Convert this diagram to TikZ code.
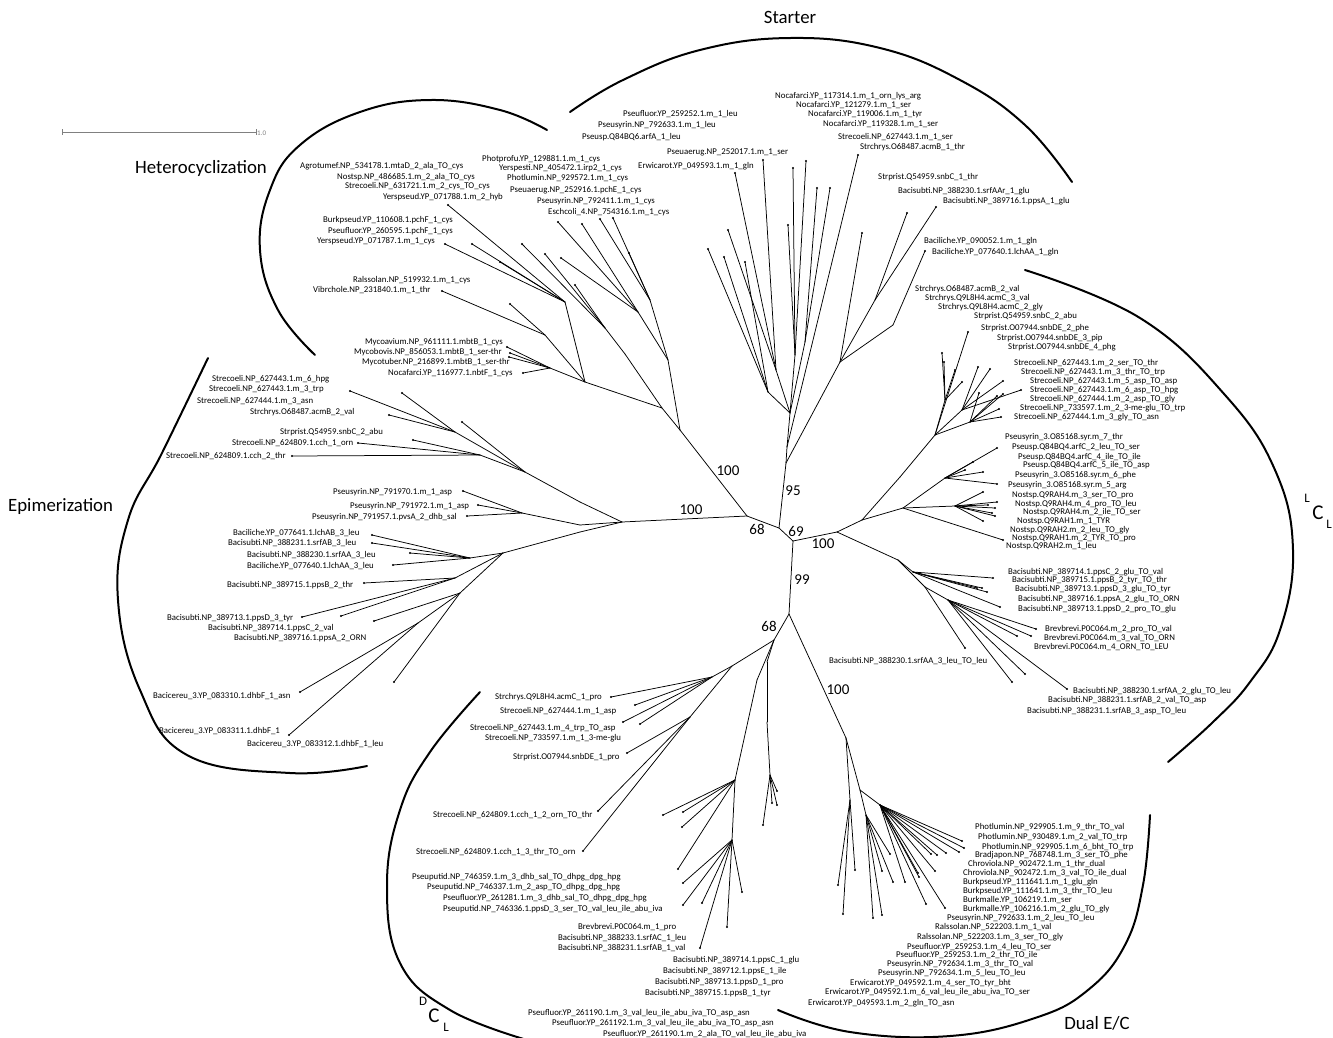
\documentclass[tikz,border=0pt]{standalone}
\usepackage{fontspec}
\setmainfont{Carlito}
\begin{document}
\begin{tikzpicture}[x=1pt,y=-1pt,
  br/.style={line width=0.75pt, line cap=round},
  arcl/.style={line width=2pt, line cap=round},
  lb/.style={anchor=west, inner sep=0pt, font=\fontsize{8.8}{9}\selectfont},
  bs/.style={inner sep=0pt, font=\fontsize{15}{16}\selectfont},
  grp/.style={inner sep=0pt, font=\fontsize{18.8}{20}\selectfont},
  sml/.style={inner sep=0pt, font=\fontsize{13}{14}\selectfont},
  tipdot/.style={fill=black}]
\useasboundingbox (0,0) rectangle (1333,1037);

% ---------- backbone ----------
\coordinate (A) at (747,516);
\foreach \n/\x/\y/\p in {B/779/528/A, C/793/541/B, S1/786/463/B, H1/680/430/A, E1/622/522/A, L1/837/532/C, D0/789/614/C}
  {\coordinate (\n) at (\x,\y); \draw[br] (\p) -- (\n);}

% ---------- internal nodes ----------
\foreach \n/\x/\y/\p in {S5/787/447/S1, S4/790/413/S5, Sa/776/370/S4, Sb/795/355/S4, Sc/805/342/S4, Sg/768/392/S4, S2/840/362/S1, Se/875/300/S2, Sf/893/325/S2,
  Hv/668/360/H1, Hw/650/300/Hv, Hx/638/312/Hv, H2/662/408/H1, H3/625/354/H2, H3a/605/328/H3, H4/585/382/H2, Hm/550/368/H4, H5/545/335/H4, H6/565/302/H4,
  Ea/580/502/E1, Es/525/472/Ea, En/455/432/Es, Eo/480/455/Es, Eq/580/525/E1, Ep/522/513/Eq, Er/580/532/E1, Eb/503/553/Er, Eb1/470/558/Eb, Eb2/455/578/Eb, Eb3/460/593/Eb, Eb4/418/623/Eb3,
  L2/862/520/L1, L3/900/477/L2, L4/935/435/L3, L4a/945/400/L4, L4b/962/410/L4, L4c/970/422/L4, L5/903/508/L2, L5a/945/478/L5, L5b/955/506/L5, L6/898/560/L1, L7/913/572/L6, L8/925/587/L6, L9/948/600/L8,
  D1/774/640/D0, D2/732/666/D1, D3/712/677/D2, D4/690/717/D2, D5/767/662/D1, D7/767/722/D5, D8/770/775/D7, D9/757/680/D1, D10/735/780/D9, D11/732/840/D10,
  U1/846/738/D0, U2/860/790/U1, U3/880/805/U2, U4/866/815/U2, U5/850/800/U1}
  {\coordinate (\n) at (\x,\y); \draw[br] (\p) -- (\n);}

% ---------- tips ----------
\foreach \x/\y/\p [count=\i] in {763/160/Sa, 735/173/Sa, 728/230/Sa, 708/249/Sg, 724/257/Sg, 745/262/Sg, 793/168/Sb, 806/161/Sb, 788/225/Sb, 817/188/Sc, 830/188/Sc, 858/155/S5, 936/207/Se, 907/213/Se, 862/233/S2, 925/251/Sf,
  613/218/Hw, 600/219/Hw, 629/253/Hw, 582/224/Hx, 558/222/Hx, 561/258/Hx, 545/254/H3a, 522/244/H3a, 575/285/H3a, 448/205/H6, 445/244/H6, 472/244/H6, 500/262/H6, 442/291/H5, 510/304/H5, 507/347/Hm, 510/353/Hm, 509/357/Hm, 523/373/Hm,
  350/391/En, 402/393/En, 389/415/En, 462/422/Es, 413/440/Eo, 358/443/Eo, 292/456/Eo, 463/491/Ep, 478/505/Ep, 467/516/Ep, 372/535/Eb1, 372/543/Eb1, 410/553/Eb1, 393/565/Eb1, 364/583/Eb2, 302/617/Eb2, 341/616/Eb2, 374/621/Eb3, 394/682/Eb3, 300/692/Eb4, 289/735/Eb4,
  968/332/L4, 942/353/L4a, 944/362/L4a, 962/382/L4a, 955/370/L4a, 990/369/L4b, 978/367/L4b, 1003/381/L4b, 1021/390/L4b, 1003/394/L4c, 997/396/L4c, 979/393/L4c, 999/409/L4c, 1001/417/L4c,
  997/448/L5a, 973/462/L5a, 983/472/L5a, 997/484/L5a, 965/470/L5a, 983/492/L5b, 997/502/L5b, 995/508/L5b, 992/513/L5b, 995/516/L5b, 983/521/L5b, 988/505/L5b, 1003/540/L5,
  993/578/L7, 977/588/L7, 982/588/L7, 1000/607/L7, 987/592/L7, 965/648/L8, 1036/629/L9, 1017/636/L9, 1031/636/L9, 1025/674/L9, 1012/682/L9, 1067/689/L9,
  611/697/D3, 635/705/D3, 623/722/D3, 640/724/D3, 627/753/D4, 598/811/D4, 583/851/D4, 763/825/D8, 772/803/D8, 777/805/D8, 777/791/D8, 663/815/D10, 683/812/D10, 682/827/D10, 678/869/D10, 683/883/D11, 683/905/D11, 702/903/D11, 742/892/D11, 727/927/D11, 700/948/D11,
  962/841/U3, 964/848/U3, 959/852/U3, 946/853/U3, 937/855/U3, 931/854/U3, 935/871/U3, 919/877/U3, 918/873/U3, 905/882/U3, 926/904/U3, 945/908/U3, 893/882/U4, 890/854/U4, 882/871/U4, 873/918/U4, 882/915/U4, 855/870/U5, 838/885/U5, 843/914/U5}
  {\coordinate (t\i) at (\x,\y); \draw[br] (\p) -- (t\i); \fill[tipdot] (t\i) circle[radius=1.2pt];}

% ---------- bootstrap values ----------
\node[bs] (b1) at (728,471) {100};
\node[bs] (b2) at (793,491) {95};
\node[bs] (b3) at (691,510) {100};
\node[bs] (b4) at (757,529) {68};
\node[bs] (b5) at (796,531) {69};
\node[bs] (b6) at (823,544) {100};
\node[bs] (b7) at (802,580) {99};
\node[bs] (b8) at (769,626) {68};
\node[bs] (b9) at (838,690) {100};

% ---------- group arcs ----------
\draw[arcl] plot[smooth, tension=0.7] coordinates {(547,130) (500,110) (430,100) (360,112) (300,145) (270,190) (260,250) (278,310) (315,355)};
\draw[arcl] plot[smooth, tension=0.7] coordinates {(570,112) (623,80) (700,50) (790,38) (880,48) (960,80) (1025,125) (1072,182)};
\draw[arcl] plot[smooth, tension=0.7] coordinates {(208,358) (162,453) (128,520) (118,600) (140,690) (187,755) (290,773) (367,766)};
\draw[arcl] plot[smooth, tension=0.7] coordinates {(1025,270) (1140,318) (1225,395) (1275,470) (1293,550) (1280,630) (1250,682) (1213,722) (1168,762)};
\draw[arcl] plot[smooth, tension=0.7] coordinates {(480,692) (430,752) (400,810) (387,885) (400,963) (450,1010) (527,1040)};
\draw[arcl] plot[smooth, tension=0.7] coordinates {(778,1010) (850,1032) (950,1036) (1035,1018) (1088,990) (1125,945) (1143,885) (1150,815)};

% ---------- group labels ----------
\node[grp] (gS) at (790,17) {Starter};
\node[grp, anchor=west] (gH) at (135,168) {Heterocyclization};
\node[grp, anchor=west] (gE) at (8,507) {Epimerization};
\node[grp] (gDual) at (1097,1023) {Dual E/C};
\node[grp, font=\fontsize{21}{22}\selectfont] (gLC) at (1318,513) {C};
\node[sml] (gLsup) at (1307,498) {L};
\node[sml] (gLsub) at (1329,524) {L};
\node[grp, font=\fontsize{21}{22}\selectfont] (gDC) at (434,1016) {C};
\node[sml] (gDsup) at (423,1001) {D};
\node[sml] (gDsub) at (446,1027) {L};

% ---------- scale bar ----------
\coordinate (sb1) at (62,132);
\coordinate (sb2) at (256,132);
\draw[gray, line width=0.8pt] (sb1) -- (sb2);
\draw[gray, line width=0.8pt] (62,129) -- (62,135);
\draw[gray, line width=0.8pt] (256,129) -- (256,135);
\node[gray, anchor=west, inner sep=0pt, font=\fontsize{7}{8}\selectfont] (sbl) at (257,133) {1.0};

% ---------- leaf labels ----------
\foreach \x/\y/\t [count=\i] in {
 623/114/Pseufluor.YP\_259252.1.m\_1\_leu,
 598/125/Pseusyrin.NP\_792633.1.m\_1\_leu,
 582/137/Pseusp.Q84BQ6.arfA\_1\_leu,
 667/152/Pseuaerug.NP\_252017.1.m\_1\_ser,
 638/166/Erwicarot.YP\_049593.1.m\_1\_gln,
 775/96/Nocafarci.YP\_117314.1.m\_1\_orn\_lys\_arg,
 796/105/Nocafarci.YP\_121279.1.m\_1\_ser,
 808/114/Nocafarci.YP\_119006.1.m\_1\_tyr,
 823/124/Nocafarci.YP\_119328.1.m\_1\_ser,
 838/137/Strecoeli.NP\_627443.1.m\_1\_ser,
 860/147/Strchrys.O68487.acmB\_1\_thr,
 878/177/Strprist.Q54959.snbC\_1\_thr,
 898/191/Bacisubti.NP\_388230.1.srfAAr\_1\_glu,
 943/201/Bacisubti.NP\_389716.1.ppsA\_1\_glu,
 924/241/Baciliche.YP\_090052.1.m\_1\_gln,
 932/252/Baciliche.YP\_077640.1.lchAA\_1\_gln}
 {\node[lb] (ls\i) at (\x,\y) {\t};}

\foreach \x/\y/\t [count=\i] in {
 300/166/Agrotumef.NP\_534178.1.mtaD\_2\_ala\_TO\_cys,
 337/177/Nostsp.NP\_486685.1.m\_2\_ala\_TO\_cys,
 345/186/Strecoeli.NP\_631721.1.m\_2\_cys\_TO\_cys,
 383/197/Yerspseud.YP\_071788.1.m\_2\_hyb,
 482/159/Photprofu.YP\_129881.1.m\_1\_cys,
 499/168/Yerspesti.NP\_405472.1.irp2\_1\_cys,
 507/178/Photlumin.NP\_929572.1.m\_1\_cys,
 510/190/Pseuaerug.NP\_252916.1.pchE\_1\_cys,
 537/201/Pseusyrin.NP\_792411.1.m\_1\_cys,
 548/212/Eschcoli\_4.NP\_754316.1.m\_1\_cys,
 323/220/Burkpseud.YP\_110608.1.pchF\_1\_cys,
 328/231/Pseufluor.YP\_260595.1.pchF\_1\_cys,
 317/241/Yerspseud.YP\_071787.1.m\_1\_cys,
 353/280/Ralssolan.NP\_519932.1.m\_1\_cys,
 313/290/Vibrchole.NP\_231840.1.m\_1\_thr,
 365/342/Mycoavium.NP\_961111.1.mbtB\_1\_cys,
 354/352/Mycobovis.NP\_856053.1.mbtB\_1\_ser-thr,
 362/362/Mycotuber.NP\_216899.1.mbtB\_1\_ser-thr,
 388/373/Nocafarci.YP\_116977.1.nbtF\_1\_cys}
 {\node[lb] (lh\i) at (\x,\y) {\t};}

\foreach \x/\y/\t [count=\i] in {
 212/379/Strecoeli.NP\_627443.1.m\_6\_hpg,
 209/389/Strecoeli.NP\_627443.1.m\_3\_trp,
 197/401/Strecoeli.NP\_627444.1.m\_3\_asn,
 250/412/Strchrys.O68487.acmB\_2\_val,
 280/432/Strprist.Q54959.snbC\_2\_abu,
 232/443/Strecoeli.NP\_624809.1.cch\_1\_orn,
 166/456/Strecoeli.NP\_624809.1.cch\_2\_thr,
 333/492/Pseusyrin.NP\_791970.1.m\_1\_asp,
 350/506/Pseusyrin.NP\_791972.1.m\_1\_asp,
 312/517/Pseusyrin.NP\_791957.1.pvsA\_2\_dhb\_sal,
 233/533/Baciliche.YP\_077641.1.lchAB\_3\_leu,
 228/543/Bacisubti.NP\_388231.1.srfAB\_3\_leu,
 247/555/Bacisubti.NP\_388230.1.srfAA\_3\_leu,
 247/566/Baciliche.YP\_077640.1.lchAA\_3\_leu,
 227/585/Bacisubti.NP\_389715.1.ppsB\_2\_thr,
 167/618/Bacisubti.NP\_389713.1.ppsD\_3\_tyr,
 208/628/Bacisubti.NP\_389714.1.ppsC\_2\_val,
 234/638/Bacisubti.NP\_389716.1.ppsA\_2\_ORN,
 153/696/Bacicereu\_3.YP\_083310.1.dhbF\_1\_asn,
 159/731/Bacicereu\_3.YP\_083311.1.dhbF\_1,
 247/744/Bacicereu\_3.YP\_083312.1.dhbF\_1\_leu}
 {\node[lb] (le\i) at (\x,\y) {\t};}

\foreach \x/\y/\t [count=\i] in {
 915/289/Strchrys.O68487.acmB\_2\_val,
 925/298/Strchrys.Q9L8H4.acmC\_3\_val,
 938/307/Strchrys.Q9L8H4.acmC\_2\_gly,
 974/316/Strprist.Q54959.snbC\_2\_abu,
 981/328/Strprist.O07944.snbDE\_2\_phe,
 997/338/Strprist.O07944.snbDE\_3\_pip,
 1008/347/Strprist.O07944.snbDE\_4\_phg,
 1014/363/Strecoeli.NP\_627443.1.m\_2\_ser\_TO\_thr,
 1021/372/Strecoeli.NP\_627443.1.m\_3\_thr\_TO\_trp,
 1030/381/Strecoeli.NP\_627443.1.m\_5\_asp\_TO\_asp,
 1030/390/Strecoeli.NP\_627443.1.m\_6\_asp\_TO\_hpg,
 1030/399/Strecoeli.NP\_627444.1.m\_2\_asp\_TO\_gly,
 1020/408/Strecoeli.NP\_733597.1.m\_2\_3-me-glu\_TO\_trp,
 1014/417/Strecoeli.NP\_627444.1.m\_3\_gly\_TO\_asn,
 1005/437/Pseusyrin\_3.O85168.syr.m\_7\_thr,
 1012/447/Pseusp.Q84BQ4.arfC\_2\_leu\_TO\_ser,
 1018/457/Pseusp.Q84BQ4.arfC\_4\_ile\_TO\_ile,
 1023/465/Pseusp.Q84BQ4.arfC\_5\_ile\_TO\_asp,
 1015/475/Pseusyrin\_3.O85168.syr.m\_6\_phe,
 1008/485/Pseusyrin\_3.O85168.syr.m\_5\_arg,
 1012/495/Nostsp.Q9RAH4.m\_3\_ser\_TO\_pro,
 1015/504/Nostsp.Q9RAH4.m\_4\_pro\_TO\_leu,
 1023/512/Nostsp.Q9RAH4.m\_2\_ile\_TO\_ser,
 1017/521/Nostsp.Q9RAH1.m\_1\_TYR,
 1010/530/Nostsp.Q9RAH2.m\_2\_leu\_TO\_gly,
 1012/538/Nostsp.Q9RAH1.m\_2\_TYR\_TO\_pro,
 1006/546/Nostsp.Q9RAH2.m\_1\_leu,
 1008/572/Bacisubti.NP\_389714.1.ppsC\_2\_glu\_TO\_val,
 1012/580/Bacisubti.NP\_389715.1.ppsB\_2\_tyr\_TO\_thr,
 1015/589/Bacisubti.NP\_389713.1.ppsD\_3\_glu\_TO\_tyr,
 1018/599/Bacisubti.NP\_389716.1.ppsA\_2\_glu\_TO\_ORN,
 1018/609/Bacisubti.NP\_389713.1.ppsD\_2\_pro\_TO\_glu,
 1045/629/Brevbrevi.P0C064.m\_2\_pro\_TO\_val,
 1044/638/Brevbrevi.P0C064.m\_3\_val\_TO\_ORN,
 1034/647/Brevbrevi.P0C064.m\_4\_ORN\_TO\_LEU,
 829/661/Bacisubti.NP\_388230.1.srfAA\_3\_leu\_TO\_leu,
 1073/691/Bacisubti.NP\_388230.1.srfAA\_2\_glu\_TO\_leu,
 1048/700/Bacisubti.NP\_388231.1.srfAB\_2\_val\_TO\_asp,
 1027/711/Bacisubti.NP\_388231.1.srfAB\_3\_asp\_TO\_leu}
 {\node[lb] (ll\i) at (\x,\y) {\t};}

\foreach \x/\y/\t [count=\i] in {
 495/697/Strchrys.Q9L8H4.acmC\_1\_pro,
 500/711/Strecoeli.NP\_627444.1.m\_1\_asp,
 470/728/Strecoeli.NP\_627443.1.m\_4\_trp\_TO\_asp,
 485/738/Strecoeli.NP\_733597.1.m\_1\_3-me-glu,
 513/757/Strprist.O07944.snbDE\_1\_pro,
 433/815/Strecoeli.NP\_624809.1.cch\_1\_2\_orn\_TO\_thr,
 416/852/Strecoeli.NP\_624809.1.cch\_1\_3\_thr\_TO\_orn,
 412/877/Pseuputid.NP\_746359.1.m\_3\_dhb\_sal\_TO\_dhpg\_dpg\_hpg,
 427/887/Pseuputid.NP\_746337.1.m\_2\_asp\_TO\_dhpg\_dpg\_hpg,
 443/898/Pseufluor.YP\_261281.1.m\_3\_dhb\_sal\_TO\_dhpg\_dpg\_hpg,
 443/909/Pseuputid.NP\_746336.1.ppsD\_3\_ser\_TO\_val\_leu\_ile\_abu\_iva,
 578/927/Brevbrevi.P0C064.m\_1\_pro,
 558/938/Bacisubti.NP\_388233.1.srfAC\_1\_leu,
 558/948/Bacisubti.NP\_388231.1.srfAB\_1\_val,
 673/960/Bacisubti.NP\_389714.1.ppsC\_1\_glu,
 663/971/Bacisubti.NP\_389712.1.ppsE\_1\_ile,
 655/982/Bacisubti.NP\_389713.1.ppsD\_1\_pro,
 645/993/Bacisubti.NP\_389715.1.ppsB\_1\_tyr,
 528/1013/Pseufluor.YP\_261190.1.m\_3\_val\_leu\_ile\_abu\_iva\_TO\_asp\_asn,
 552/1023/Pseufluor.YP\_261192.1.m\_3\_val\_leu\_ile\_abu\_iva\_TO\_asp\_asn,
 603/1034/Pseufluor.YP\_261190.1.m\_2\_ala\_TO\_val\_leu\_ile\_abu\_iva}
 {\node[lb] (ld\i) at (\x,\y) {\t};}

\foreach \x/\y/\t [count=\i] in {
 975/827/Photlumin.NP\_929905.1.m\_9\_thr\_TO\_val,
 978/837/Photlumin.NP\_930489.1.m\_2\_val\_TO\_trp,
 982/847/Photlumin.NP\_929905.1.m\_6\_bht\_TO\_trp,
 975/855/Bradjapon.NP\_768748.1.m\_3\_ser\_TO\_phe,
 968/864/Chroviola.NP\_902472.1.m\_1\_thr\_dual,
 963/873/Chroviola.NP\_902472.1.m\_3\_val\_TO\_ile\_dual,
 963/882/Burkpseud.YP\_111641.1.m\_1\_glu\_gln,
 963/891/Burkpseud.YP\_111641.1.m\_3\_thr\_TO\_leu,
 963/900/Burkmalle.YP\_106219.1.m\_ser,
 963/909/Burkmalle.YP\_106216.1.m\_2\_glu\_TO\_gly,
 947/918/Pseusyrin.NP\_792633.1.m\_2\_leu\_TO\_leu,
 935/927/Ralssolan.NP\_522203.1.m\_1\_val,
 917/937/Ralssolan.NP\_522203.1.m\_3\_ser\_TO\_gly,
 907/947/Pseufluor.YP\_259253.1.m\_4\_leu\_TO\_ser,
 896/955/Pseufluor.YP\_259253.1.m\_2\_thr\_TO\_ile,
 887/964/Pseusyrin.NP\_792634.1.m\_3\_thr\_TO\_val,
 878/973/Pseusyrin.NP\_792634.1.m\_5\_leu\_TO\_leu,
 850/983/Erwicarot.YP\_049592.1.m\_4\_ser\_TO\_tyr\_bht,
 825/992/Erwicarot.YP\_049592.1.m\_6\_val\_leu\_ile\_abu\_iva\_TO\_ser,
 808/1003/Erwicarot.YP\_049593.1.m\_2\_gln\_TO\_asn}
 {\node[lb] (lu\i) at (\x,\y) {\t};}
\end{tikzpicture}
\end{document}
